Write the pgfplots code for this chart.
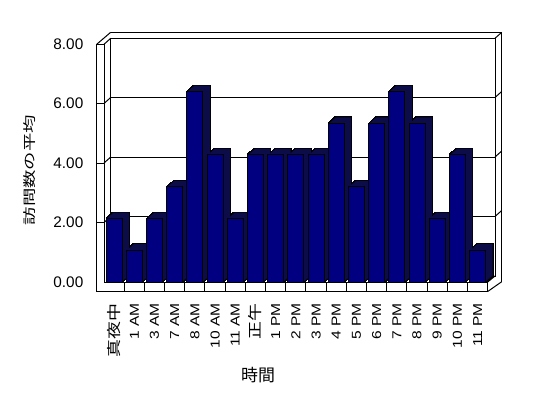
\documentclass[border=0pt]{standalone}
\usepackage{pgfplots}
\pgfplotsset{compat=1.18}
\usepackage{pgfplotstable}
\usepackage{fontspec}
\setmainfont{Liberation Sans}
\newfontfamily\jp[FakeStretch=1.25]{Noto Sans CJK JP}
\newfontfamily\jpy[FakeStretch=1.42]{Noto Sans CJK JP}
\newfontfamily\jpx{Noto Sans CJK JP}
\newfontfamily\lat[FakeStretch=1.2]{Liberation Sans}
\definecolor{barfront}{RGB}{0,0,128}
\definecolor{barside}{RGB}{12,12,72}

\pgfplotstableread{
x y
0 2.13
1 1.07
2 2.13
3 3.20
4 6.40
5 4.27
6 2.13
7 4.27
8 4.27
9 4.27
10 4.27
11 5.33
12 3.20
13 5.33
14 6.40
15 5.33
16 2.13
17 4.27
18 1.07
}\data

\begin{document}
\begin{tikzpicture}[x=1bp,y=1bp]
\useasboundingbox (0,0) rectangle (548,398);
\begin{scope}[line width=1bp, black]
% back wall
\draw (110.7,122) rectangle (495,359.7);
\draw (110.7,365.7) -- (501.7,365.7) -- (501.7,116.3);
\draw (495,359.7) -- (501.7,365.7);
% left wall
\draw (96.7,106.5) -- (96.7,353.7) -- (104,353.7) -- (104,116);
\draw (96.7,353.7) -- (110.7,365.7);
\draw (104,353.7) -- (110.7,359.7);
% floor
\draw (96.7,106.5) -- (487.7,106.5) -- (487.7,116) -- (104,116);
\draw (487.7,116) -- (495,122);
\draw (487.7,106.5) -- (501.7,116.3);
\foreach \k in {1,...,18} {\draw ({104+\k*20.195},106.5) -- ({104+\k*20.195},116);}
% gridlines
\foreach \v in {2,4,6} {
  \draw (110.7,{122+29.75*\v}) -- (495,{122+29.75*\v});
  \draw (104,{116+29.75*\v}) -- (110.7,{122+29.75*\v});
  \draw (96.7,{116+29.75*\v}) -- (104,{116+29.75*\v});
  \draw (495,{122+29.75*\v}) -- (501.7,{128+29.75*\v});
}
\end{scope}
\begin{axis}[
  at={(104bp,116bp)}, anchor=south west,
  scale only axis, width=383.7bp, height=238bp,
  xmin=-0.5, xmax=18.5, ymin=0, ymax=8,
  clip=false,
  axis line style={draw=none},
  major tick length=0pt,
  xtick={0,...,18},
  xticklabels={{\jp\fontsize{14.4}{14.4}\selectfont 真夜中},1 AM,3 AM,7 AM,8 AM,10 AM,11 AM,{\jp\fontsize{14.4}{14.4}\selectfont 正午},1 PM,2 PM,3 PM,4 PM,5 PM,6 PM,7 PM,8 PM,9 PM,10 PM,11 PM},
  xticklabel style={font=\lat\fontsize{13}{13}\selectfont, rotate=90, anchor=east, inner sep=0pt},
  xticklabel shift=21bp,
  ytick={0,2,4,6,8},
  yticklabel style={font=\fontsize{15.4}{16}\selectfont, anchor=east, inner sep=0pt},
  yticklabel shift=20.5bp,
  /pgf/number format/.cd, fixed, fixed zerofill, precision=2, assume math mode=true,
]
\pgfplotsinvokeforeach{1,...,7}{
  \addplot[ybar, bar shift=0pt, bar width=0.79, fill=black, draw=black, line width=2bp, xshift=#1bp, yshift={#1*0.857bp}] table[x=x,y=y] {\data};
}
\pgfplotsinvokeforeach{1,...,7}{
  \addplot[ybar, bar shift=0pt, bar width=0.79, fill=barside, draw=none, xshift=#1bp, yshift={#1*0.857bp}] table[x=x,y=y] {\data};
}
\addplot[ybar, bar shift=0pt, bar width=0.79, fill=barfront, draw=black, line width=1bp] table[x=x,y=y] {\data};
\end{axis}
\node[rotate=90, font=\jpy\fontsize{13}{13}\selectfont] at (30,228) {訪問数の平均};
\node[font=\jpx\fontsize{17}{17}\selectfont] at (258,22.5) {時間};
\end{tikzpicture}
\end{document}
